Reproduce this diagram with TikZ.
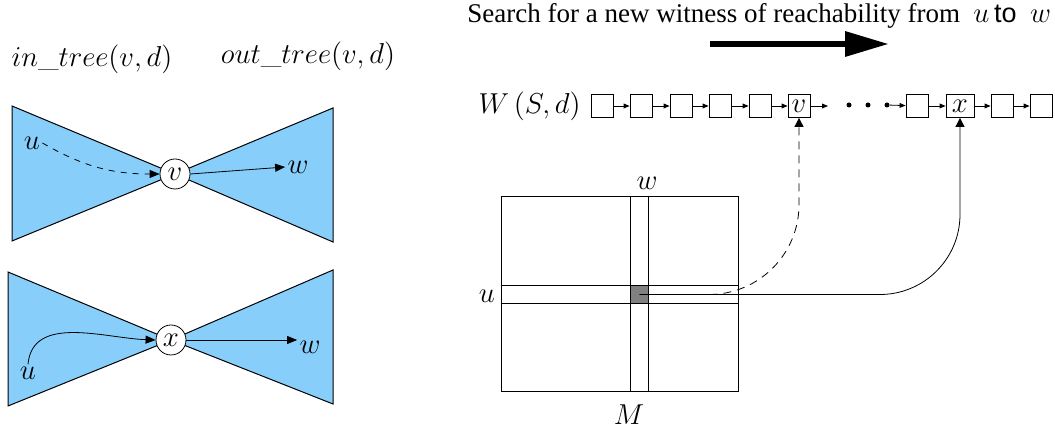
\documentclass[tikz,border=0pt]{standalone}
\usepackage{amsmath}
\usepackage{fontspec}
\newfontfamily\titlefont{Liberation Serif}
\newfontfamily\tofont{Liberation Sans}
\usepackage{tikz}
\usetikzlibrary{arrows.meta, positioning, calc}
\definecolor{treeblue}{RGB}{135,206,250}
\tikzset{
  tree/.style={fill=treeblue, draw=black, line width=0.5pt},
  root/.style={circle, draw, fill=white, minimum size=15pt, inner sep=0pt, font=\fontsize{14}{16}\selectfont},
  lbl/.style={inner sep=1pt, font=\fontsize{14}{16}\selectfont},
  slot/.style={draw, minimum width=11pt, minimum height=11.5pt, inner sep=0pt, font=\fontsize{14}{16}\selectfont},
  link/.style={-{Triangle[length=3pt,width=2.4pt]}, line width=0.4pt},
  dot/.style={circle, fill, inner sep=0pt, minimum size=2.5pt},
  tip/.style={-{Triangle[length=5pt,width=4pt]}},
  vtip/.style={-{Triangle[length=4.5pt,width=4.5pt]}},
}

\begin{document}
\begin{tikzpicture}[x=0.5pt, y=-0.5pt]
  \useasboundingbox (0,0) rectangle (1055,431);

  % upper bow tie
  \node[lbl] (intree) at (92,59) {$in\_tree(v,d)$};
  \node[lbl] (outtree) at (308,56) {$out\_tree(v,d)$};
  \coordinate (vc) at (175,174);
  \draw[tree] (12,106) -- (12,241) -- (vc) -- cycle;
  \draw[tree] (333,108) -- (333,242) -- (vc) -- cycle;
  \node[root] (v) at (vc) {$v$};
  \node[lbl] (u1) at (32,143) {$u$};
  \node[lbl] (w1) at (298,167) {$w$};
  \draw[dashed, tip] (u1.east) to[out=-30,in=180] (v.west);
  \draw[tip] (v.east) -- (w1.west);

  % lower bow tie
  \coordinate (xc) at (171,340);
  \draw[tree] (8,272) -- (8,406) -- (xc) -- cycle;
  \draw[tree] (333,270) -- (333,404) -- (xc) -- cycle;
  \node[root] (x) at (xc) {$x$};
  \node[lbl] (u2) at (28,373) {$u$};
  \node[lbl] (w2) at (310,347) {$w$};
  \draw[tip] (u2.north) to[out=85,in=178] (x.west);
  \draw[tip] (x.east) -- (x.east -| w2.west);

  % search direction
  \node[anchor=base west, inner sep=0pt, font=\titlefont\fontsize{13.5}{16}\selectfont] (title) at (467,23)
    {Search for a new witness of reachability from\enspace$u$\,{\tofont to}\enspace$w$};
  \coordinate (s0) at (710,44);
  \coordinate (s1) at (889,44);
  \draw[line width=3.2pt, -{Triangle[length=22pt,width=12pt]}] (s0) -- (s1);

  % witness list W(S,d)
  \node[lbl, anchor=east] (W) at (583,106) {$W\,(S,d)$};
  \foreach \i/\x/\t in {1/602/{},2/641/{},3/681/{},4/720/{},5/760/{},6/799/{$v$},7/917/{},9/1002/{},10/1041/{}}
    \node[slot] (b\i) at (\x,106) {\t};
  \node[slot, minimum width=14pt] (b8) at (960,106) {$x$};
  \foreach \i/\x in {1/849,2/868,3/887}
    \node[dot] (d\i) at (\x,105) {};
  \coordinate (gap) at (828,106);
  \foreach \a/\b in {b1/b2,b2/b3,b3/b4,b4/b5,b5/b6,b6/gap,d3/b7,b7/b8,b8/b9,b9/b10}
    \draw[link] (\a) -- (\b);

  % matrix M
  \node[draw, minimum width=118.5pt, minimum height=97.5pt, inner sep=0pt] (mat) at (619.5,293.5) {};
  \node[fill=gray, minimum size=8.5pt, inner sep=0pt] (cell) at (639.5,294.5) {};
  \draw (cell.north -| mat.west) -- (cell.north -| mat.east);
  \draw (cell.south -| mat.west) -- (cell.south -| mat.east);
  \draw (cell.west |- mat.north) -- (cell.west |- mat.south);
  \draw (cell.east |- mat.north) -- (cell.east |- mat.south);
  \node[lbl] (mu) at (487,296) {$u$};
  \node[lbl] (mw) at (647,183) {$w$};
  \node[lbl] (mM) at (629,415) {$M$};

  % entry points into the list
  \draw[dash pattern=on 4pt off 3pt, vtip, rounded corners=45pt] (cell.center) -- (cell.center -| b6.south) -- (b6.south);
  \draw[vtip, rounded corners=40pt] (cell.center) -- (cell.center -| b8.south) -- (b8.south);
\end{tikzpicture}
\end{document}
